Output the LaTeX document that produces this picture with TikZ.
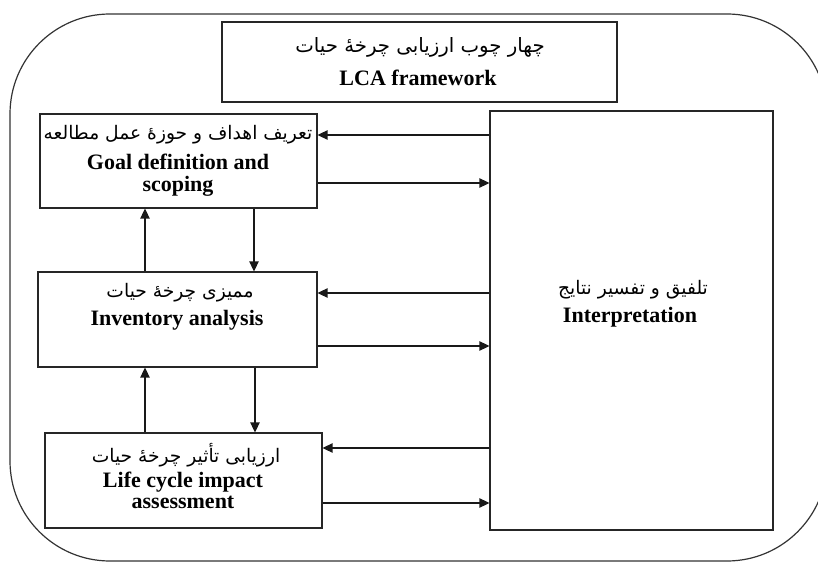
\documentclass[tikz,border=0pt]{standalone}
\usepackage{fontspec}
\setmainfont{Liberation Serif}
\newfontfamily\fa[Script=Arabic]{DejaVu Sans}
\TeXXeTstate=1
\usetikzlibrary{arrows.meta}
\tikzset{
  box/.style={draw=black!85, line width=0.8pt, rectangle, inner sep=0pt},
  arr/.style={draw=black!90, line width=0.9pt, -{Triangle[length=7.5pt,width=7pt]}},
  fatext/.style={font=\fa\fontsize{14}{16}\selectfont, inner sep=0pt},
  entext/.style={font=\fontsize{16.5}{16.5}\selectfont\bfseries, align=center, inner sep=0pt},
}
\begin{document}
\begin{tikzpicture}[x=0.75pt,y=-0.75pt]
\useasboundingbox (0,0) rectangle (818,563);
\clip (0,0) rectangle (818,563);
\draw[line width=0.9pt, draw=black!80, rounded corners=75pt] (10,14) rectangle (827,561);

\node[box, line width=1.6pt, minimum width=296.25pt, minimum height=60pt] (title) at (419.5,62) {};
\node[box, minimum width=207.75pt, minimum height=70.5pt] (goal) at (178.5,161) {};
\node[box, minimum width=209.25pt, minimum height=71.25pt] (inv) at (177.5,319.5) {};
\node[box, minimum width=207.75pt, minimum height=71.25pt] (lcia) at (183.5,480.5) {};
\node[box, minimum width=212.25pt, minimum height=314.25pt] (interp) at (631.5,320.5) {};

% texts
\node[fatext, font=\fa\fontsize{14.8}{16}\selectfont] (t1) at (420,47) {\beginR چهار چوب ارزیابی چرخهٔ حیات\endR};
\node[entext] (t2) at (418,78) {LCA framework};
\node[fatext] (g1) at (178,135) {\beginR تعریف اهداف و حوزهٔ عمل مطالعه\endR};
\node[entext, font=\fontsize{16.5}{16.5}\selectfont\bfseries] (g2) at (178,175.5) {Goal definition and\\scoping};
\node[fatext] (i1) at (180,293) {\beginR ممیزی چرخهٔ حیات\endR};
\node[entext] (i2) at (177,320) {Inventory analysis};
\node[fatext] (l1) at (186,455) {\beginR ارزیابی تأثیر چرخهٔ حیات\endR};
\node[entext, font=\fontsize{16.5}{15.3}\selectfont\bfseries] (l2) at (183,490.5) {Life cycle impact\\assessment};
\node[fatext] (p1) at (633,290) {\beginR تلفیق و تفسیر نتایج\endR};
\node[entext] (p2) at (630,317) {Interpretation};

% horizontal connectors
\draw[arr] (interp.west |- 0,135) -- (goal.east |- 0,135);
\draw[arr] (goal.east |- 0,183) -- (interp.west |- 0,183);
\draw[arr] (interp.west |- 0,293) -- (inv.east |- 0,293);
\draw[arr] (inv.east |- 0,346) -- (interp.west |- 0,346);
\draw[arr] (interp.west |- 0,448) -- (lcia.east |- 0,448);
\draw[arr] (lcia.east |- 0,503) -- (interp.west |- 0,503);

% vertical connectors
\draw[arr] (inv.north -| 145,0) -- (goal.south -| 145,0);
\draw[arr] (goal.south -| 254,0) -- (inv.north -| 254,0);
\draw[arr] (lcia.north -| 145,0) -- (inv.south -| 145,0);
\draw[arr] (inv.south -| 255,0) -- (lcia.north -| 255,0);
\end{tikzpicture}
\end{document}
